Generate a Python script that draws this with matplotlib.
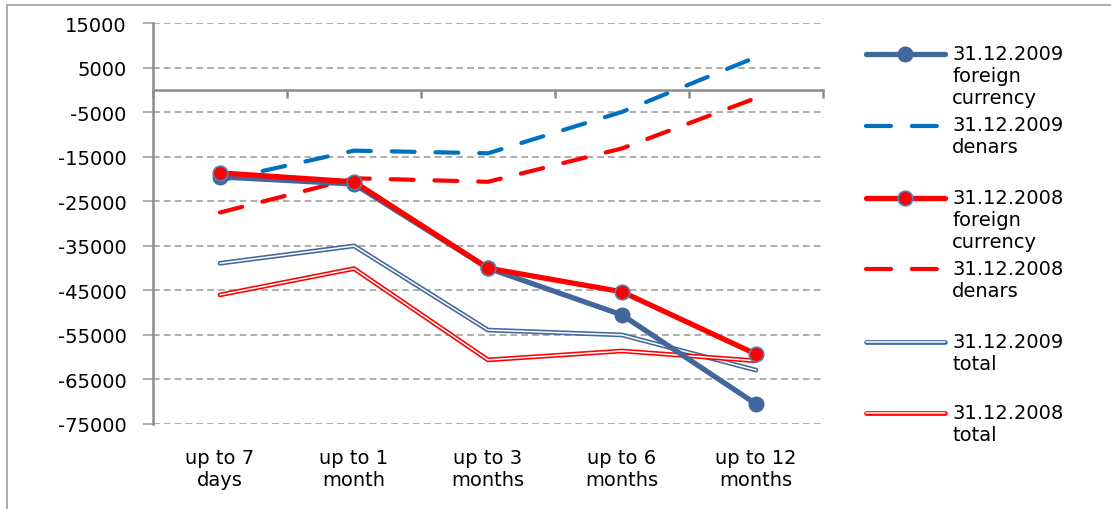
import numpy as np
import matplotlib
matplotlib.use("Agg")
import matplotlib.pyplot as plt
import matplotlib.patheffects as pe
from matplotlib.lines import Line2D

# data
categories = ["up to 7\ndays", "up to 1\nmonth", "up to 3\nmonths", "up to 6\nmonths", "up to 12\nmonths"]
fc_2009 = [-19500, -21100, -40000, -50500, -70500]
den_2009 = [-20300, -13600, -14200, -4900, 7400]
fc_2008 = [-18600, -20600, -40000, -45300, -59300]
den_2008 = [-27500, -19800, -20600, -13100, -1800]
total_2009 = [-38900, -35000, -53900, -55000, -62900]
total_2008 = [-46000, -40100, -60600, -58600, -60800]
yticks = list(range(15000, -75001, -10000))

labels = ["31.12.2009\nforeign\ncurrency", "31.12.2009\ndenars",
          "31.12.2008\nforeign\ncurrency", "31.12.2008\ndenars",
          "31.12.2009\ntotal", "31.12.2008\ntotal"]

navy = "#41679c"
blue = "#0070c0"
red = "#ff0000"
edge = "#4f81bd"

plt.rcParams["font.family"] = "DejaVu Sans"
plt.rcParams["axes.unicode_minus"] = False
fs = 14

fig = plt.figure(figsize=(11.11, 5.10), dpi=100)
W, H = 1111, 510
ax = fig.add_axes([153 / W, 1 - 425 / H, 670 / W, 400.7 / H])

x = np.arange(len(categories))


def double(col):
    return [pe.Stroke(linewidth=3.4, foreground=col), pe.Stroke(linewidth=1.1, foreground="white")]


styles = [
    dict(color=navy, lw=3.8, marker="o", ms=10.5, mfc=navy, mec=navy, zorder=5),
    dict(color=blue, lw=3.0, dashes=(5.5, 5), dash_capstyle="round", zorder=4),
    dict(color=red, lw=3.8, marker="o", ms=10.5, mfc=red, mec=edge, mew=1.2, zorder=6),
    dict(color=red, lw=3.0, dashes=(5.5, 5), dash_capstyle="round", zorder=4),
    dict(color=navy, lw=3.4, path_effects=double(navy), zorder=3),
    dict(color=red, lw=3.4, path_effects=double(red), zorder=3),
]
series = [fc_2009, den_2009, fc_2008, den_2008, total_2009, total_2008]

# horizontal axis at zero with boundary ticks (drawn underneath the lines)
zero = ax.twiny()
zero.set_xlim(-0.5, 4.5)
zero.xaxis.set_ticks_position("bottom")
zero.spines["bottom"].set_position(("data", 0))
zero.set_xticks(np.arange(-0.5, 5, 1))
zero.set_xticklabels([])
zero.tick_params(axis="x", length=6, width=1.8, color="#8c8c8c", direction="out")
for s in ["top", "right", "left"]:
    zero.spines[s].set_visible(False)
zero.spines["bottom"].set_color("#8c8c8c")
zero.spines["bottom"].set_linewidth(1.8)
zero.set_zorder(0)
ax.set_zorder(1)
ax.patch.set_visible(False)

for vals, st in zip(series, styles):
    ax.plot(x, vals, solid_capstyle="round", **st)

ax.set_xlim(-0.5, 4.5)
ax.set_ylim(-75000, 15000)
ax.set_yticks(yticks)
ax.set_yticklabels([str(v) for v in yticks], fontsize=fs)
ax.grid(axis="y", color="#a0a0a0", linestyle=(0, (4, 2.5)), linewidth=1.2)
ax.tick_params(axis="y", length=7, width=1.2, color="#a0a0a0", pad=12)

ax.set_xticks(x)
ax.set_xticklabels(categories, fontsize=fs, linespacing=1.2)
ax.tick_params(axis="x", length=0, pad=17)

for s in ["top", "right", "bottom"]:
    ax.spines[s].set_visible(False)
ax.spines["left"].set_color("#8c8c8c")
ax.spines["left"].set_linewidth(1.8)

# legend drawn by hand so markers sit on the first text line
leg_y = [55, 126.5, 199, 270, 343, 414]
for lab, st, ly in zip(labels, styles, leg_y):
    yy = 1 - ly / H
    kw = {k: v for k, v in st.items() if k not in ("marker", "ms", "mfc", "mec", "mew", "zorder")}
    if "dashes" in kw:
        kw["dashes"] = (6, 5)
    fig.add_artist(Line2D([866 / W, 945 / W], [yy, yy], transform=fig.transFigure,
                          solid_capstyle="round", **kw))
    if "marker" in st:
        fig.add_artist(Line2D([905 / W], [yy], transform=fig.transFigure, marker="o",
                              ms=st["ms"], mfc=st["mfc"], mec=st["mec"],
                              mew=st.get("mew", 1), linestyle="none"))
    fig.text(952 / W, yy + 10 / H, lab, fontsize=fs, va="top", ha="left", linespacing=1.2,
             transform=fig.transFigure)

# outer frame
fig.add_artist(Line2D([7 / W, 7 / W], [0, 1 - 6 / H], transform=fig.transFigure, color="#a0a0a0", lw=1.2))
fig.add_artist(Line2D([7 / W, 1], [1 - 6 / H, 1 - 6 / H], transform=fig.transFigure, color="#a0a0a0", lw=1.2))

fig.savefig("out.png", dpi=100)
